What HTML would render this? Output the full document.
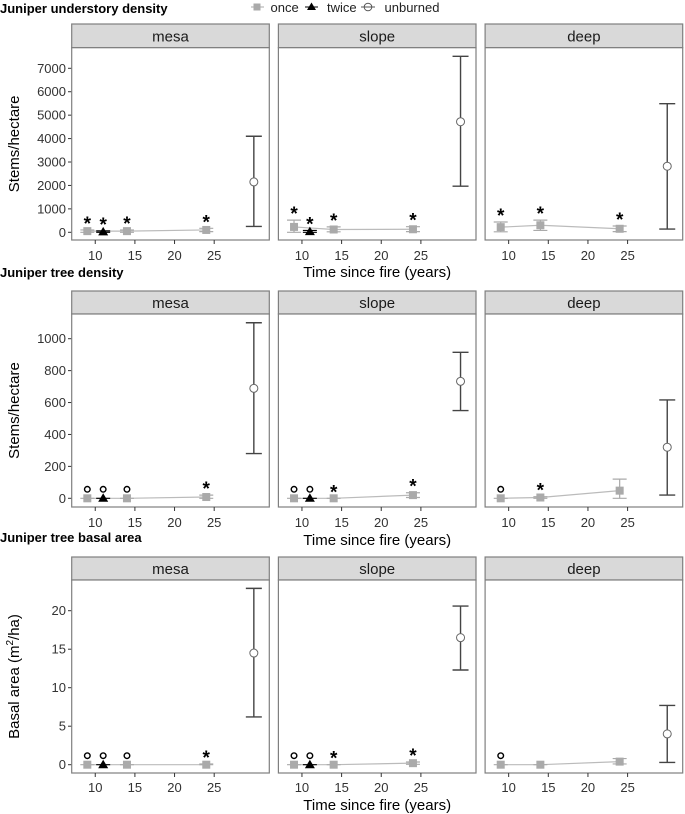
<!DOCTYPE html>
<html><head><meta charset="utf-8"><style>
html,body{margin:0;padding:0;background:#fff}
svg{display:block;font-family:"Liberation Sans",Arial,sans-serif}
</style></head><body>
<svg id="fig" width="685" height="814" viewBox="0 0 685 814" xmlns="http://www.w3.org/2000/svg"></svg>
<script>
// ---- data ----
const sites = ["mesa","slope","deep"];
const rowTitles = ["Juniper understory density","Juniper tree density","Juniper tree basal area"];
const yTicks1 = [0,1000,2000,3000,4000,5000,6000,7000];
const yTicks2 = [0,200,400,600,800,1000];
const yTicks3 = [0,5,10,15,20];
const xTicks = [10,15,20,25];
// once: years, mean, low, high, marker per panel
const onceYears = [[9,14,24],[9,14,24],[9,14,24]];
// row 1 understory
const once1Mean = [[50,50,100],[230,120,130],[220,300,150]];
const once1Lo = [[0,0,30],[0,20,30],[20,80,30]];
const once1Hi = [[100,100,170],[520,230,240],[440,520,270]];
const once1Mark = [["*","*","*"],["*","*","*"],["*","*","*"]];
const twice1 = [[11,20,0,60,"*"],[11,30,0,80,"*"],null];
const unb1 = [[30,2150,250,4100],[30,4720,1970,7510],[30,2820,140,5490]];
// row 2 tree density
const once2Mean = [[0,0,8],[0,0,20],[0,5,48]];
const once2Lo = [[0,0,0],[0,0,5],[0,0,0]];
const once2Hi = [[0,0,20],[0,0,35],[0,10,120]];
const once2Mark = [["o","o","*"],["o","*","*"],["o","*",""]];
const twice2 = [[11,0,0,0,"o"],[11,0,0,0,"o"],null];
const unb2 = [[30,689,280,1100],[30,733,550,915],[30,320,20,616]];
// row 3 basal area
const once3Mean = [[0,0,0],[0,0,0.2],[0,0,0.4]];
const once3Lo = [[0,0,0],[0,0,0.05],[0,0,0.1]];
const once3Hi = [[0,0,0.1],[0,0,0.35],[0,0,0.8]];
const once3Mark = [["o","o","*"],["o","*","*"],["o","",""]];
const twice3 = [[11,0,0,0,"o"],[11,0,0,0,"o"],null];
const unb3 = [[30,14.5,6.2,22.9],[30,16.5,12.3,20.6],[30,4.0,0.3,7.7]];

const NS="http://www.w3.org/2000/svg";
const svg=document.getElementById('fig');
function mk(tag,attrs,parent){const e=document.createElementNS(NS,tag);for(const k in attrs)e.setAttribute(k,attrs[k]);(parent||svg).appendChild(e);return e;}

const panelW=197.6, panelStep=206.7, panelX0=71.7;
const xMin=7.03, xMax=31.95;
function xs(p,v){return panelX0+p*panelStep+(v-xMin)/(xMax-xMin)*panelW;}

const rows=[
 {title:rowTitles[0],titleY:13,strip:[24,47.7],bottom:240,zero:232.3,per:164/7000,ticks:yTicks1,
  mean:once1Mean,lo:once1Lo,hi:once1Hi,mark:once1Mark,twice:twice1,unb:unb1,ytitle:"Stems/hectare",xtitleY:277,tickY:260},
 {title:rowTitles[1],titleY:277,strip:[291,314],bottom:507,zero:498.3,per:159.6/1000,ticks:yTicks2,
  mean:once2Mean,lo:once2Lo,hi:once2Hi,mark:once2Mark,twice:twice2,unb:unb2,ytitle:"Stems/hectare",xtitleY:545,tickY:527},
 {title:rowTitles[2],titleY:542,strip:[557,580],bottom:773,zero:764.7,per:154/20,ticks:yTicks3,
  mean:once3Mean,lo:once3Lo,hi:once3Hi,mark:once3Mark,twice:twice3,unb:unb3,ytitle:"basal",xtitleY:810,tickY:792}
];

// legend
const lg=mk('g',{});


mk('line',{x1:251,y1:7,x2:264,y2:7,stroke:'#aaa','stroke-width':1},lg);
mk('rect',{x:253.5,y:3.5,width:7,height:7,fill:'#aaa'},lg);
mk('text',{x:270.5,y:12,'font-size':13,fill:'#222'},lg).textContent='once';
mk('line',{x1:305,y1:7,x2:318,y2:7,stroke:'#000','stroke-width':1},lg);
mk('path',{d:'M311.5,2.5 L316,10 L307,10 Z',fill:'#000'},lg);
mk('text',{x:327,y:12,'font-size':13,fill:'#222'},lg).textContent='twice';
mk('line',{x1:361,y1:7,x2:375,y2:7,stroke:'#555','stroke-width':1},lg);
mk('circle',{cx:368,cy:7,r:3.8,fill:'none',stroke:'#555','stroke-width':1},lg);
mk('text',{x:384.5,y:12,'font-size':13,fill:'#222'},lg).textContent='unburned';

function marker(g,type,x,y){
  if(type==="*"){
    const t=mk('text',{x:x,y:y+9,'font-size':19,'text-anchor':'middle','font-weight':'bold',fill:'#000'},g);t.textContent='*';
    
    
  } else if(type==="o"){
    const c=mk('circle',{cx:x,cy:y,r:2.8,fill:'none',stroke:'#000','stroke-width':1.4},g);
    
    
  }
}

rows.forEach((R,ri)=>{
  const rt=mk('text',{x:0,y:R.titleY,'font-size':13,'font-weight':'bold',fill:'#000'});
  rt.textContent=R.title;
  
  
  const ys=v=>R.zero-v*R.per;
  const top=R.strip[1], bot=R.bottom;
  // y axis title
  const cy=(top+bot)/2;
  const yt=mk('text',{x:0,y:0,'font-size':15,fill:'#000','text-anchor':'middle',transform:`translate(19,${cy}) rotate(-90)`});
  
  
  if(R.ytitle==="basal"){
    yt.appendChild(document.createTextNode('Basal area (m'));
    const s=mk('tspan',{dy:-6,'font-size':10},yt);s.textContent='2';
    const s2=mk('tspan',{dy:6},yt);s2.textContent='/ha)';
  } else yt.textContent=R.ytitle;
  // y ticks
  R.ticks.forEach(t=>{
    const y=ys(t);
    mk('line',{x1:68,y1:y,x2:panelX0,y2:y,stroke:'#333','stroke-width':1});
    const tl=mk('text',{x:66,y:y+4.5,'font-size':13,'text-anchor':'end',fill:'#333'});
    tl.textContent=t;
    
    
  });
  sites.forEach((s,p)=>{
    const L=panelX0+p*panelStep;
    const g=mk('g',{});
    
    
    mk('rect',{x:L,y:R.strip[0],width:panelW,height:R.strip[1]-R.strip[0],fill:'#d9d9d9',stroke:'#7f7f7f','stroke-width':1.2},g);
    const st=mk('text',{x:L+panelW/2,y:R.strip[1]-6,'font-size':15,'text-anchor':'middle',fill:'#1a1a1a'},g);
    st.textContent=s;
    
    
    mk('rect',{x:L,y:top,width:panelW,height:bot-top,fill:'#fff',stroke:'#7f7f7f','stroke-width':1.2},g);
    // x ticks
    xTicks.forEach(t=>{
      const x=xs(p,t);
      mk('line',{x1:x,y1:bot,x2:x,y2:bot+4,stroke:'#333','stroke-width':1},g);
      const tl=mk('text',{x:x,y:R.tickY,'font-size':13,'text-anchor':'middle',fill:'#333'},g);
      tl.textContent=t;
      
      
    });
    // once line
    const yrs=onceYears[p];
    const pts=yrs.map((yv,i)=>xs(p,yv)+','+ys(R.mean[p][i])).join(' ');
    const pl=mk('polyline',{points:pts,fill:'none',stroke:'#bbb','stroke-width':1.2},g);
    
    
    yrs.forEach((yv,i)=>{
      const x=xs(p,yv),lo=ys(R.lo[p][i]),hi=ys(R.hi[p][i]),m=ys(R.mean[p][i]);
      mk('path',{d:`M${x-7},${lo}H${x+7}M${x-7},${hi}H${x+7}M${x},${lo}V${hi}`,stroke:'#aaa','stroke-width':1.2,fill:'none'},g);
      const r=mk('rect',{x:x-4,y:m-4,width:8,height:8,fill:'#aaa'},g);
      
      
      marker(g,R.mark[p][i],x,hi-9);
    });
    // twice
    const tw=R.twice[p];
    if(tw){
      const x=xs(p,tw[0]),m=ys(tw[1]),lo=ys(tw[2]),hi=ys(tw[3]);
      mk('path',{d:`M${x-7},${lo}H${x+7}M${x-7},${hi}H${x+7}M${x},${lo}V${hi}`,stroke:'#000','stroke-width':1.2,fill:'none'},g);
      const tr=mk('path',{d:`M${x},${m-5} L${x+5},${m+3.5} L${x-5},${m+3.5} Z`,fill:'#000'},g);
      
      
      marker(g,tw[4],x,hi-9);
    }
    // unburned
    const u=R.unb[p];
    const ux=xs(p,u[0]),um=ys(u[1]),ulo=ys(u[2]),uhi=ys(u[3]);
    const eb=mk('path',{d:`M${ux-8},${ulo}H${ux+8}M${ux-8},${uhi}H${ux+8}M${ux},${ulo}V${uhi}`,stroke:'#444','stroke-width':1.4,fill:'none'},g);
    
    
    const uc=mk('circle',{cx:ux,cy:um,r:4,fill:'#fff',stroke:'#666','stroke-width':1},g);
    
    
  });
  const xt=mk('text',{x:panelX0+panelStep+panelW/2,y:R.xtitleY,'font-size':15,'text-anchor':'middle',fill:'#000'});
  xt.textContent='Time since fire (years)';
  
  
});
</script>
</body></html>
